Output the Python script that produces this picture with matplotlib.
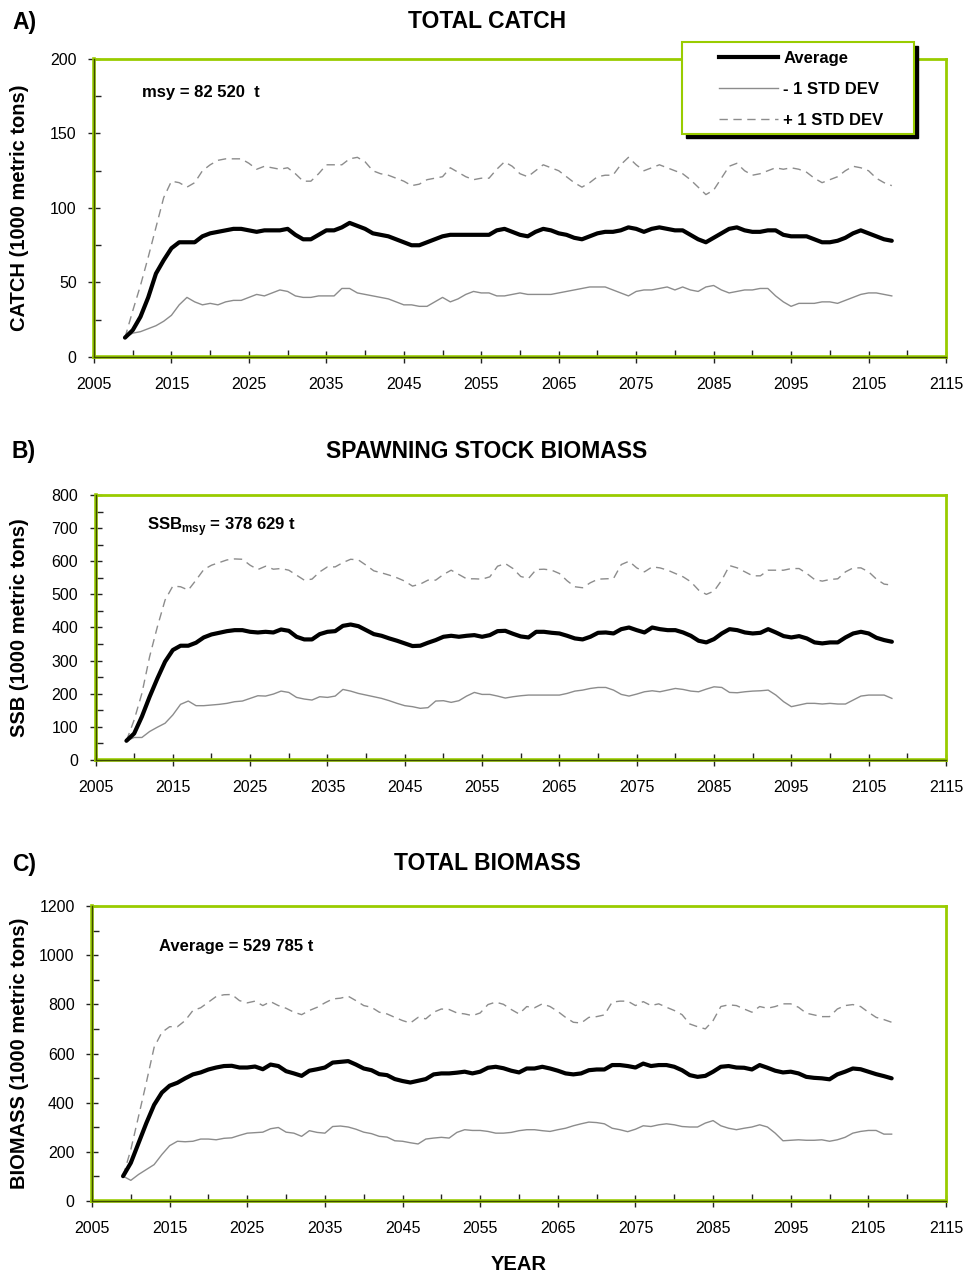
import numpy as np
import matplotlib
matplotlib.use('Agg')
import matplotlib.pyplot as plt
from matplotlib.patches import Rectangle
from matplotlib.lines import Line2D

plt.rcParams['font.family'] = ['Liberation Sans', 'DejaVu Sans']

years = np.arange(2009, 2109)

catch_avg = [13, 18, 27, 40, 56, 65, 73, 77, 77, 77,
             81, 83, 84, 85, 86, 86, 85, 84, 85, 85,
             85, 86, 82, 79, 79, 82, 85, 85, 87, 90,
             88, 86, 83, 82, 81, 79, 77, 75, 75, 77,
             79, 81, 82, 82, 82, 82, 82, 82, 85, 86,
             84, 82, 81, 84, 86, 85, 83, 82, 80, 79,
             81, 83, 84, 84, 85, 87, 86, 84, 86, 87,
             86, 85, 85, 82, 79, 77, 80, 83, 86, 87,
             85, 84, 84, 85, 85, 82, 81, 81, 81, 79,
             77, 77, 78, 80, 83, 85, 83, 81, 79, 78]
catch_low = [13, 16, 17, 19, 21, 24, 28, 35, 40, 37,
             35, 36, 35, 37, 38, 38, 40, 42, 41, 43,
             45, 44, 41, 40, 40, 41, 41, 41, 46, 46,
             43, 42, 41, 40, 39, 37, 35, 35, 34, 34,
             37, 40, 37, 39, 42, 44, 43, 43, 41, 41,
             42, 43, 42, 42, 42, 42, 43, 44, 45, 46,
             47, 47, 47, 45, 43, 41, 44, 45, 45, 46,
             47, 45, 47, 45, 44, 47, 48, 45, 43, 44,
             45, 45, 46, 46, 41, 37, 34, 36, 36, 36,
             37, 37, 36, 38, 40, 42, 43, 43, 42, 41]
catch_high = [13, 31, 48, 67, 87, 107, 118, 117, 114, 117,
              125, 129, 132, 133, 133, 133, 130, 126, 128, 127,
              126, 127, 123, 118, 118, 123, 129, 129, 129, 133,
              134, 131, 125, 123, 122, 120, 118, 115, 116, 119,
              120, 121, 127, 124, 121, 119, 120, 120, 126, 131,
              128, 123, 121, 125, 129, 127, 125, 121, 117, 114,
              117, 121, 122, 122, 129, 134, 129, 125, 127, 129,
              127, 125, 123, 119, 114, 109, 112, 120, 128, 130,
              125, 122, 123, 125, 127, 126, 127, 126, 124, 120,
              117, 119, 121, 125, 128, 127, 125, 120, 117, 115]

ssb_avg = [58, 80, 131, 191, 246, 297, 332, 345, 345, 354,
           370, 379, 384, 389, 392, 392, 387, 385, 387, 385,
           394, 390, 372, 364, 364, 380, 387, 389, 405, 409,
           404, 392, 380, 375, 367, 360, 352, 344, 345, 354,
           362, 372, 375, 372, 375, 377, 372, 377, 389, 390,
           381, 373, 370, 387, 387, 384, 382, 375, 367, 364,
           372, 384, 385, 382, 395, 400, 392, 385, 400, 395,
           392, 392, 385, 375, 360, 355, 365, 382, 395, 392,
           385, 382, 384, 395, 385, 374, 370, 374, 367, 355,
           352, 355, 355, 370, 382, 387, 382, 369, 362, 357]
ssb_low = [58, 68, 68, 86, 99, 111, 136, 168, 178, 164,
           164, 166, 168, 171, 176, 178, 186, 194, 193, 199,
           208, 204, 189, 184, 181, 191, 189, 193, 213, 208,
           201, 196, 191, 186, 179, 171, 164, 161, 156, 158,
           178, 179, 174, 179, 193, 204, 198, 198, 193, 187,
           191, 194, 196, 196, 196, 196, 196, 201, 208, 211,
           216, 219, 219, 211, 198, 193, 199, 206, 209, 206,
           211, 216, 213, 208, 206, 214, 221, 219, 204, 203,
           206, 208, 209, 211, 196, 176, 161, 166, 171, 171,
           169, 171, 169, 169, 181, 193, 196, 196, 196, 186]
ssb_high = [58, 121, 201, 312, 402, 483, 525, 523, 513, 543,
            575, 588, 596, 604, 607, 606, 588, 575, 585, 576,
            578, 573, 558, 543, 546, 568, 583, 583, 596, 606,
            604, 588, 571, 565, 558, 550, 540, 525, 531, 543,
            543, 560, 573, 560, 547, 547, 546, 553, 585, 593,
            578, 554, 548, 575, 576, 573, 563, 541, 523, 520,
            535, 546, 547, 548, 590, 600, 580, 568, 583, 580,
            573, 563, 553, 538, 513, 500, 510, 543, 587, 580,
            568, 556, 556, 573, 573, 573, 578, 578, 563, 545,
            540, 545, 547, 568, 580, 580, 568, 546, 531, 528]

bio_avg = [101, 155, 236, 317, 391, 441, 469, 481, 499, 515,
           523, 535, 543, 549, 550, 543, 543, 547, 536, 555,
           549, 528, 519, 509, 530, 536, 543, 563, 566, 569,
           555, 539, 532, 516, 512, 496, 488, 482, 489, 496,
           515, 519, 519, 522, 526, 519, 526, 542, 546, 540,
           530, 523, 539, 539, 546, 539, 530, 519, 515, 519,
           532, 535, 535, 553, 553, 549, 543, 559, 549, 553,
           553, 546, 532, 512, 505, 509, 526, 546, 549, 543,
           542, 535, 553, 542, 530, 523, 526, 519, 505, 501,
           499, 495, 515, 526, 539, 536, 526, 516, 508, 499]
bio_low = [101, 84, 108, 128, 148, 189, 225, 243, 241, 243,
           252, 252, 249, 255, 257, 267, 276, 278, 280, 294,
           299, 280, 276, 263, 286, 279, 276, 303, 305, 301,
           292, 280, 274, 263, 260, 245, 243, 237, 232, 252,
           256, 259, 256, 279, 290, 287, 287, 283, 276, 276,
           279, 286, 290, 290, 286, 283, 290, 296, 306, 314,
           321, 319, 314, 296, 290, 282, 292, 306, 303, 310,
           314, 310, 303, 301, 301, 317, 327, 306, 296, 290,
           296, 301, 310, 301, 276, 245, 247, 249, 247, 247,
           249, 243, 249, 259, 276, 283, 287, 287, 272, 272]
bio_high = [101, 209, 345, 482, 625, 686, 709, 709, 734, 775,
            786, 809, 832, 839, 840, 815, 806, 813, 795, 811,
            795, 784, 768, 758, 775, 788, 806, 822, 825, 833,
            815, 795, 788, 768, 761, 747, 734, 724, 747, 741,
            768, 781, 779, 765, 761, 754, 765, 799, 809, 800,
            779, 761, 791, 786, 802, 791, 771, 747, 727, 724,
            747, 750, 757, 809, 813, 813, 795, 811, 795, 802,
            788, 775, 758, 720, 709, 700, 734, 791, 798, 795,
            781, 768, 791, 784, 791, 802, 802, 788, 764, 757,
            750, 750, 781, 795, 799, 791, 768, 747, 738, 727]

W, H = 967, 1277
GREEN = '#99cc00'
DARK = '#3d4a00'
GRAY = '#8c8c8c'


def fx(px):
    return px / W


def fy(py):
    return 1 - py / H


fig = plt.figure(figsize=(W / 100, H / 100), dpi=100)

# (left, top, right, bottom) in pixels
boxes = [(94, 59, 946, 357), (95.5, 495, 946, 760), (92, 906, 946, 1201)]
panels = [
    ('A)', 'TOTAL CATCH', 'CATCH (1000 metric tons)', catch_avg, catch_low, catch_high, 200, 50),
    ('B)', 'SPAWNING STOCK BIOMASS', 'SSB (1000 metric tons)', ssb_avg, ssb_low, ssb_high, 800, 100),
    ('C)', 'TOTAL BIOMASS', 'BIOMASS (1000 metric tons)', bio_avg, bio_low, bio_high, 1200, 200),
]
title_y = [22, 452, 864]

axes = []
for i, (box, p) in enumerate(zip(boxes, panels)):
    l, t, r, b = box
    letter, title, ylab, avg, low, high, ymax, step = p
    ax = fig.add_axes([fx(l), fy(b), (r - l) / W, (b - t) / H])
    axes.append(ax)
    ax.plot(years, low, color=GRAY, lw=1.0, label='- 1 STD DEV')
    ax.plot(years, high, color=GRAY, lw=1.0, ls=(0, (6, 4)), label='+ 1 STD DEV')
    ax.plot(years, avg, color='black', lw=3.0, solid_capstyle='round',
            solid_joinstyle='round', label='Average')
    ax.set_xlim(2005, 2115)
    ax.set_ylim(0, ymax)
    ax.set_xticks(np.arange(2005, 2116, 10))
    ax.set_xticks(np.arange(2010, 2115, 10), minor=True)
    ax.set_yticks(np.arange(0, ymax + 1, step))
    ax.set_yticks(np.arange(step / 2, ymax, step), minor=True)
    ax.tick_params(which='major', direction='inout', length=9, width=1.0,
                   color='#222222', labelsize=11.5)
    ax.tick_params(which='minor', direction='in', length=5, width=1.0, color='#222222')
    ax.tick_params(axis='x', which='major', pad=10)
    ax.tick_params(axis='y', which='major', pad=8)
    for s in ['top', 'right']:
        ax.spines[s].set_color(GREEN)
        ax.spines[s].set_linewidth(2.0)
    for s in ['left', 'bottom']:
        ax.spines[s].set_color(GREEN)
        ax.spines[s].set_linewidth(2.6)
    ax.plot([0, 0], [0, 1], transform=ax.transAxes, color=DARK, lw=1.0, clip_on=False, zorder=5)
    ax.plot([0, 1], [0, 0], transform=ax.transAxes, color=DARK, lw=1.0, clip_on=False, zorder=5)

    fig.text(fx(24), fy(title_y[i]), letter, ha='center', va='center',
             fontsize=16.5, fontweight='bold')
    fig.text(fx(487), fy(title_y[i]), title, ha='center', va='center',
             fontsize=16.5, fontweight='bold')
    fig.text(fx(20), fy((t + b) / 2), ylab, ha='center', va='center',
             rotation=90, fontsize=14.5, fontweight='bold')

axes[0].text(fx(142), fy(92), 'msy = 82 520  t', transform=fig.transFigure,
             fontsize=12, fontweight='bold', va='center')
axes[1].text(fx(147), fy(527), 'SSB$_\\mathregular{msy}$ = 378 629 t', transform=fig.transFigure,
             fontsize=12, fontweight='bold', va='center')
axes[2].text(fx(159), fy(947), 'Average = 529 785 t', transform=fig.transFigure,
             fontsize=12, fontweight='bold', va='center')

fig.text(fx(519), fy(1265), 'YEAR', ha='center', va='center', fontsize=14.5, fontweight='bold')

# legend box with black drop shadow
lx0, ly0, lx1, ly1 = 682, 42, 914, 134
fig.patches.append(Rectangle((fx(lx0 + 4), fy(ly1 + 4)), (lx1 - lx0) / W, (ly1 - ly0) / H,
                             transform=fig.transFigure, facecolor='black', edgecolor='black', zorder=20))
fig.patches.append(Rectangle((fx(lx0), fy(ly1)), (lx1 - lx0) / W, (ly1 - ly0) / H,
                             transform=fig.transFigure, facecolor='white', edgecolor=GREEN,
                             lw=1.5, zorder=21))
handles = [Line2D([], [], color='black', lw=3.0),
           Line2D([], [], color=GRAY, lw=1.0),
           Line2D([], [], color=GRAY, lw=1.0, ls=(0, (6, 4)))]
leg = fig.legend(handles, ['Average', '- 1 STD DEV', '+ 1 STD DEV'],
                 loc='upper left', bbox_to_anchor=(fx(719), fy(51)), frameon=False,
                 borderpad=0, borderaxespad=0, handlelength=3.55, handletextpad=0.3,
                 labelspacing=0.95, prop={'size': 12, 'weight': 'bold'})
leg.set_zorder(22)

fig.savefig('out.png', dpi=100)
